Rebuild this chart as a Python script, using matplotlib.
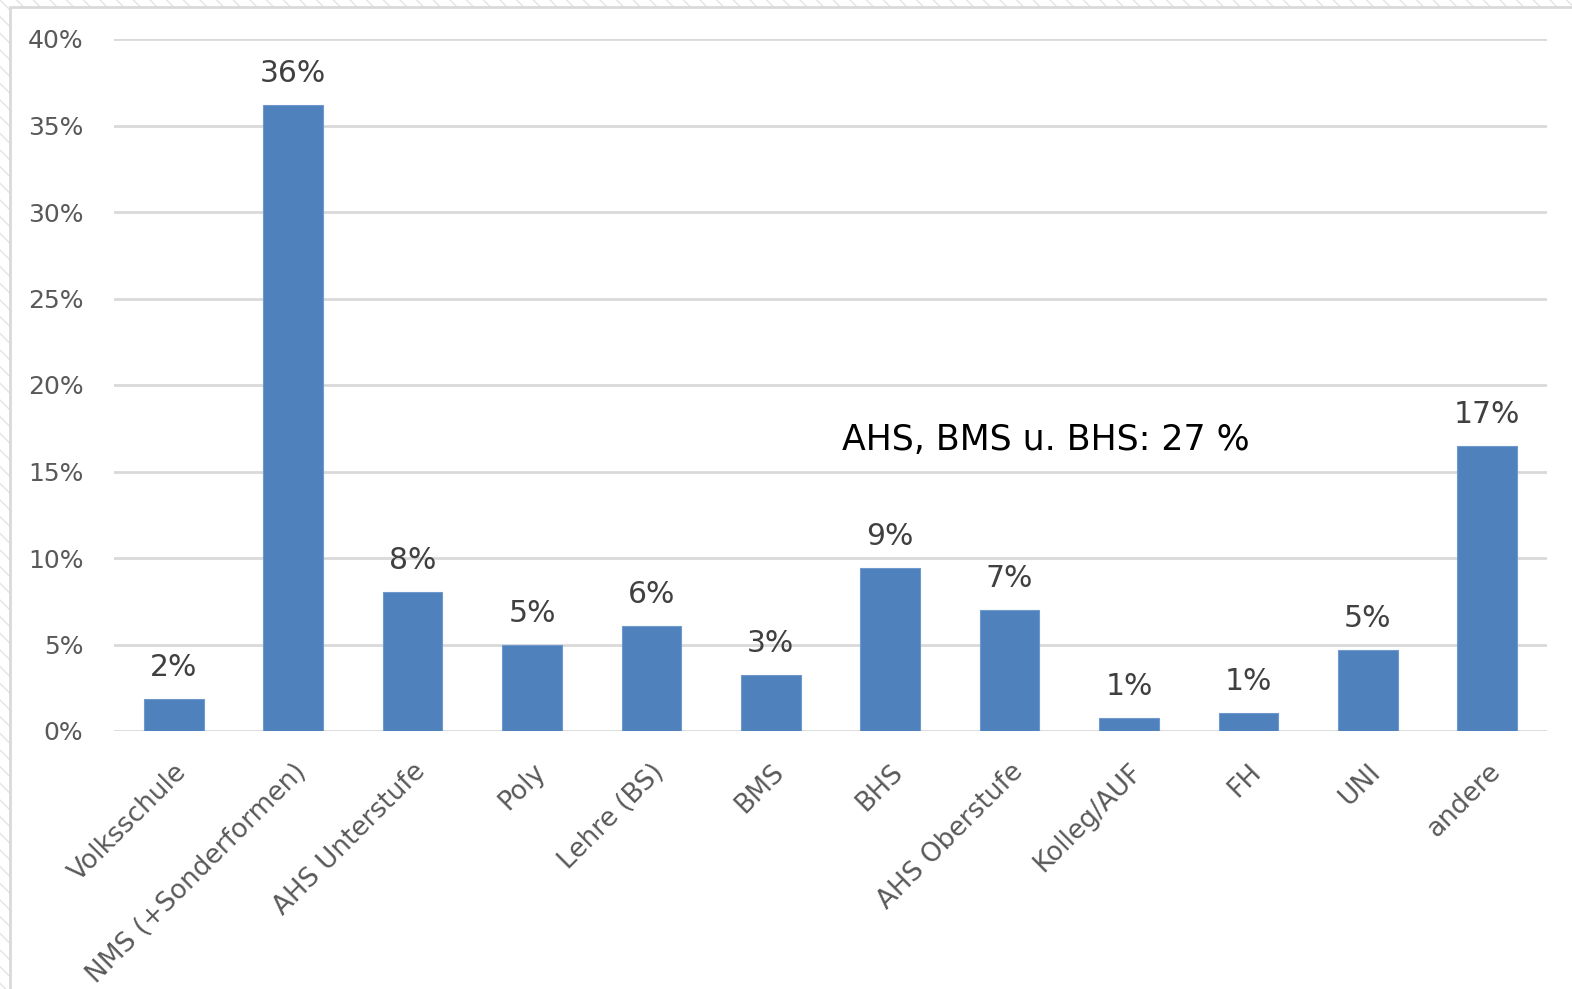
import numpy as np
import matplotlib.pyplot as plt
from matplotlib.patches import Rectangle
from matplotlib.ticker import PercentFormatter

categories = ['Volksschule', 'NMS (+Sonderformen)', 'AHS Unterstufe', 'Poly',
              'Lehre (BS)', 'BMS', 'BHS', 'AHS Oberstufe', 'Kolleg/AUF',
              'FH', 'UNI', 'andere']
values = [1.85, 36.2, 8.03, 4.97, 6.07, 3.24, 9.42, 6.99, 0.75, 1.04, 4.68, 16.5]
labels = ['2%', '36%', '8%', '5%', '6%', '3%', '9%', '7%', '1%', '1%', '5%', '17%']
yticks = [0, 5, 10, 15, 20, 25, 30, 35, 40]
note = 'AHS, BMS u. BHS: 27 %'

W, H = 1572, 989
fig = plt.figure(figsize=(W/100, H/100), dpi=100)

# background frame with hatched margin
bg = Rectangle((0, 0), 1, 1, transform=fig.transFigure, facecolor='white',
               edgecolor='#e4e4e4', hatch='\\\\', linewidth=0, zorder=-2)
fig.patches.append(bg)
inner = Rectangle((10/W, -0.01), 1, 1 - 7/H + 0.01, transform=fig.transFigure,
                  facecolor='white', edgecolor='#d9d9d9', linewidth=2, zorder=-1)
fig.patches.append(inner)

ax = fig.add_axes([114/W, 1 - 731/H, (1547 - 114)/W, (731 - 39)/H])
ax.patch.set_alpha(0)
x = np.arange(len(categories))
bars = ax.bar(x, values, width=0.5, color='#4f81bd', edgecolor='#6f98cc',
              linewidth=0.8, zorder=3)

for xi, v, lab in zip(x, values, labels):
    ax.annotate(lab, (xi, v), xytext=(0, 12), textcoords='offset points',
                ha='center', va='bottom', fontsize=21.5, color='#404040')

ax.set_xlim(-0.5, len(categories) - 0.5)
ax.set_ylim(0, 40)
ax.set_yticks(yticks)
ax.yaxis.set_major_formatter(PercentFormatter(decimals=0))
ax.grid(axis='y', color='#d9d9d9', linewidth=2, zorder=0)
ax.set_axisbelow(True)
for s in ax.spines.values():
    s.set_visible(False)
ax.tick_params(axis='both', length=0, labelsize=18, colors='#595959')
ax.tick_params(axis='y', pad=22)
ax.set_xticks(x)
ax.set_xticklabels(categories, rotation=45, ha='right', rotation_mode='anchor',
                   fontsize=19, color='#595959')
ax.tick_params(axis='x', pad=20)

ax.text(7.3, 16.8, note, ha='center', va='center', fontsize=25, color='black',
        family=['Liberation Sans Narrow', 'DejaVu Sans'])

fig.savefig('out.png', dpi=100)
